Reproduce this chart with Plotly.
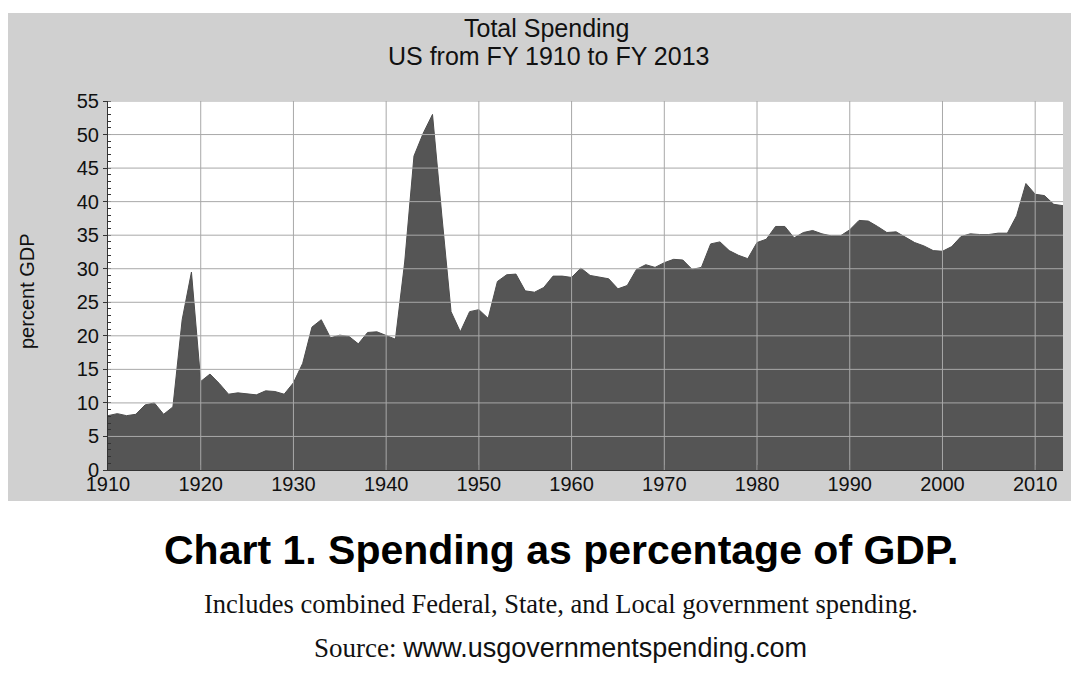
import plotly.graph_objects as go

# ---- data ----
years = list(range(1910, 2014))
spending_pct_gdp = [
    8.1, 8.4, 8.1, 8.3, 9.7, 10.0, 8.3, 9.4, 22.4, 29.5,      # 1910-1919
    13.2, 14.3, 12.9, 11.3, 11.5, 11.4, 11.2, 11.8, 11.7, 11.3,  # 1920-1929
    13.0, 15.9, 21.3, 22.4, 19.7, 20.1, 19.9, 18.8, 20.5, 20.6,  # 1930-1939
    20.1, 19.5, 31.0, 46.8, 50.2, 53.0, 38.0, 23.6, 20.6, 23.6,  # 1940-1949
    23.9, 22.6, 28.1, 29.1, 29.2, 26.7, 26.5, 27.2, 28.9, 28.9,  # 1950-1959
    28.7, 30.1, 29.0, 28.7, 28.5, 27.0, 27.5, 29.9, 30.6, 30.2,  # 1960-1969
    30.9, 31.4, 31.3, 29.9, 30.2, 33.7, 34.0, 32.7, 32.0, 31.5,  # 1970-1979
    33.9, 34.4, 36.3, 36.3, 34.6, 35.4, 35.7, 35.2, 34.9, 34.9,  # 1980-1989
    35.8, 37.2, 37.1, 36.3, 35.4, 35.5, 34.7, 33.9, 33.4, 32.7,  # 1990-1999
    32.6, 33.3, 34.8, 35.2, 35.1, 35.1, 35.3, 35.3, 37.9, 42.7,  # 2000-2009
    41.1, 40.9, 39.6, 39.4,                                      # 2010-2013
]
x_ticks = list(range(1910, 2011, 10))
y_ticks = list(range(0, 56, 5))

chart_title = ["Total Spending", "US from FY 1910 to FY 2013"]
y_label = "percent GDP"
caption = "Chart 1. Spending as percentage of GDP."
note = "Includes combined Federal, State, and Local government spending."
source_label = "Source: "
source_url = "www.usgovernmentspending.com"

# ---- layout geometry (pixels, in the page; the page body adds an 8px margin) ----
OFF = 8
W, H = 1080 - OFF, 690 - OFF
PL, PR, PT, PB = 108, 1063, 101, 470  # plot area edges in page pixels


def px(x):
    return (x - PL) / (PR - PL)


def py(y):
    return (PB - y) / (PB - PT)


SANS = "Liberation Sans, Arial, sans-serif"
SERIF = "Liberation Serif, Times New Roman, serif"

fig = go.Figure()
fig.add_trace(go.Scatter(
    x=years, y=spending_pct_gdp,
    mode="lines", fill="tozeroy",
    line=dict(color="#4d4d4d", width=1),
    fillcolor="#555555",
    hoverinfo="x+y",
    showlegend=False,
))

shapes = [
    # grey panel behind title and plot
    dict(type="rect", xref="paper", yref="paper",
         x0=px(8), x1=px(1071), y0=py(501), y1=py(13),
         fillcolor="#d0d0d0", line=dict(width=0), layer="below"),
    # white plotting area
    dict(type="rect", xref="paper", yref="paper", x0=0, x1=1, y0=0, y1=1,
         fillcolor="#ffffff", line=dict(width=0), layer="below"),
]
# grid lines drawn above the filled area, as in the reference
grid_color = "#a8a8a8"
for yv in y_ticks[1:]:
    shapes.append(dict(type="line", xref="paper", yref="y", x0=0, x1=1, y0=yv, y1=yv,
                       line=dict(color=grid_color, width=1), layer="above"))
for xv in x_ticks[1:]:
    shapes.append(dict(type="line", xref="x", yref="paper", x0=xv, x1=xv, y0=0, y1=1,
                       line=dict(color=grid_color, width=1), layer="above"))

annotations = [
    dict(text=chart_title[0], x=px(546), y=py(28), xref="paper", yref="paper",
         showarrow=False, xanchor="center", yanchor="middle",
         font=dict(family=SANS, size=25, color="#111111")),
    dict(text=chart_title[1], x=px(548), y=py(56), xref="paper", yref="paper",
         showarrow=False, xanchor="center", yanchor="middle",
         font=dict(family=SANS, size=25, color="#111111")),
    dict(text=y_label, x=px(27), y=py(291), xref="paper", yref="paper",
         showarrow=False, textangle=-90, xanchor="center", yanchor="middle",
         font=dict(family=SANS, size=20, color="#111111")),
    dict(text="<b>" + caption + "</b>", x=px(561), y=py(550), xref="paper", yref="paper",
         showarrow=False, xanchor="center", yanchor="middle",
         font=dict(family=SANS, size=41, color="#000000")),
    dict(text=note, x=px(561), y=py(604), xref="paper", yref="paper",
         showarrow=False, xanchor="center", yanchor="middle",
         font=dict(family=SERIF, size=26.5, color="#111111")),
    dict(text=source_label + "<span style='font-family:Liberation Sans, Arial, sans-serif;font-size:27px'>"
         + source_url + "</span>",
         x=px(560), y=py(648), xref="paper", yref="paper",
         showarrow=False, xanchor="center", yanchor="middle",
         font=dict(family=SERIF, size=27, color="#111111")),
]

fig.update_layout(
    width=W, height=H,
    margin=dict(l=PL - OFF, r=W - (PR - OFF), t=PT - OFF, b=H - (PB - OFF), pad=0),
    paper_bgcolor="#ffffff",
    plot_bgcolor="#ffffff",
    shapes=shapes,
    annotations=annotations,
    xaxis=dict(
        range=[1910, 2013], tickvals=x_ticks, ticktext=[str(v) for v in x_ticks],
        showgrid=False, zeroline=False,
        showline=True, linecolor="#333333", linewidth=1,
        ticks="inside", ticklen=5, tickcolor="#333333",
        ticklabelstandoff=-4,
        tickfont=dict(family=SANS, size=20, color="#111111"),
        layer="above traces", fixedrange=True,
    ),
    yaxis=dict(
        range=[0, 55], tickvals=y_ticks,
        showgrid=False, zeroline=False,
        showline=True, linecolor="#333333", linewidth=1,
        ticks="outside", ticklen=4, tickcolor="#333333",
        minor=dict(dtick=1, ticks="inside", ticklen=3, tickcolor="#333333", showgrid=False),
        tickfont=dict(family=SANS, size=20, color="#111111"),
        layer="above traces", fixedrange=True,
    ),
)

fig.write_html("out.html")
